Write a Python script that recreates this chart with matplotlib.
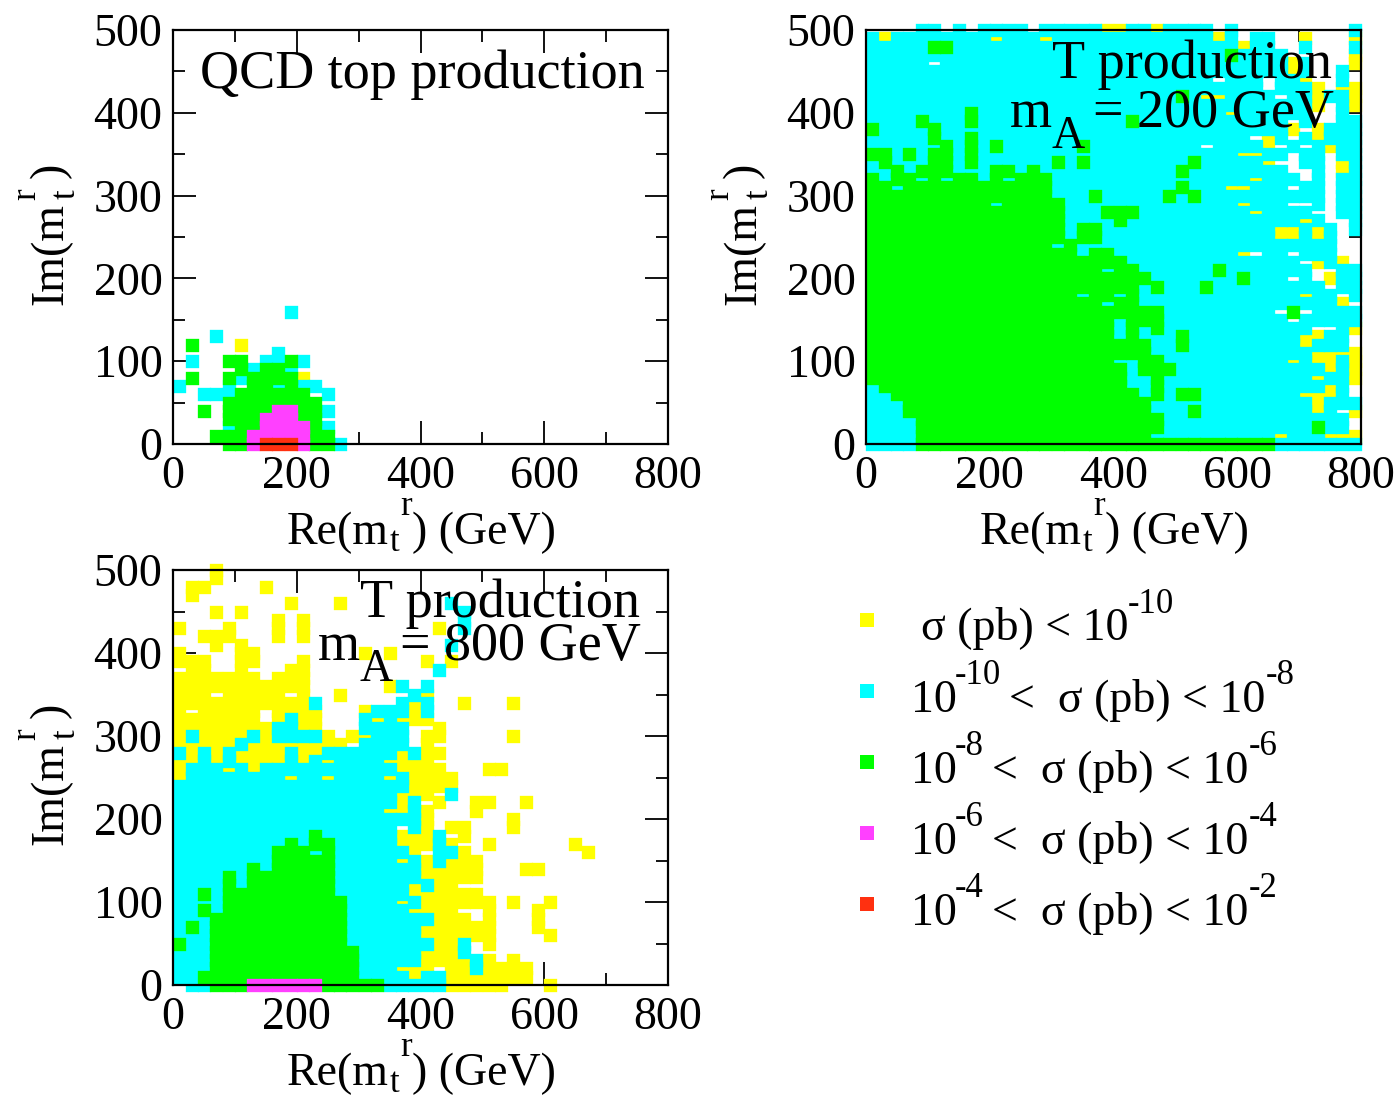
import matplotlib
matplotlib.use("Agg")
import matplotlib.pyplot as plt

W, H = 1398, 1099
plt.rcParams['font.family'] = ['Liberation Serif', 'DejaVu Serif']
plt.rcParams['mathtext.default'] = 'regular'

COLORS = {'y': '#ffff00', 'c': '#00ffff', 'g': '#00ff00', 'm': '#ff40ff', 'r': '#ff3010'}
LEVEL_ORDER = ['y', 'c', 'g', 'm', 'r']
XTICKS = [0, 200, 400, 600, 800]
YTICKS = [0, 100, 200, 300, 400, 500]

# Each row is one Im(m) value, from the top value down in steps of 10; each char one Re(m) column (10, 30, ...)
QCD_TOP = 160
QCD_ROWS = [
    ".........c", "", "", "...c......", ".g...y....", "........c.",
    ".c..gg.ccgc", ".....gcggc", ".g..gcggggy", "c...c.ggcgcc",
    "..cccgggggg.c", "....gggggggg", "..g.ggggmmggc", "....gggmmmgg.",
    "....cggmmmmgc", "...gggmmmmmgg", "....ggmrrrmggc",
]

T200_TOP = 500
T200_ROWS = [
    "....cc.c.c ccc.cccccy yccycccc.c .........c",
    "cycccccccc ycccyccccc ccccccccyc .cc..y...y",
    "cccccggccc cccccccccc cccccccccc ycc..c...c",
    "cccccccccc cccccccccc cccccccccg cccc.....y",
    "ccccc.cccc cccccccccc cccccccccc ccccyc...y",
    "cccccccccc cccccccccc cccccccccc ccccyc..c.",
    "cccccccccc cccccccccc cccccccc.c cc.ccy..c.",
    "cccccccccc cccccccccc cccccccccc cc.cccy.yy",
    "cccccccccc cccccccccc cccccgcyyc ccc.ccyccy",
    "cccccccccc cccccccccc cccccccccc ccccccy.cy",
    "ccccccccgc cccccccccc cccccccccy cccccc..c.",
    "ccccgcccgc cccccccccc cgcccccccc cccc.c..cc",
    "gccccgcccc cccccccccc cccccccccc ccccy.yccc",
    "cccccgccgc cccccccccc cccccccccc c.yc.cyccc",
    "ccccccgcgc gccccccgcc ccccccc.cc ccy.c.cycc",
    "ggcgcggcgc cccccccccc cccccccccc yycc.cc.cc",
    "cgcccggcgc cccccgcgcc ccccccgccc ccy..cc.yc",
    "ccgcgggccc ggcgcccccc cccccgcccc cccc..c.yc",
    "gcggcgcggc gcgggccccc cccccccccc cyccc.c.cc",
    "ggcggggggg gggggccccc cccccgcccy yccc.cc.cc",
    "gggggggggg gggggcccgc ccccgcgccc ccccccc.cc",
    "gggggggggg cgggggcccc cccccccccc yccc..c.cc",
    "gggggggggg ggggggcccg ggcccccccc cycccc..cc",
    "gggggggggg ggggggcccc gccccccccc cccccyc..c",
    "gggggggggg ggggggcggc cccccccccc cccyycyc.c",
    "gggggggggg ggggggcggc cccccccccc cccyycyc..",
    "gggggggggg gggggcgccc cccccccccc cccccccc..",
    "gggggggggg gggggggcgg cccccccccc y.cc.ccc..",
    "gggggggggg gggggggggg gccccccccc ccccc.ycy.",
    "gggggggggg gggggggggc ggccccccgc cccccc..cc",
    "gggggggggg gggggggggg gggccccccc gccc.c.ycc",
    "gggggggggg gggggggggg ggcgcccgcc ccccccc.cc",
    "gggggggggg gggggggcgg cgcccccccc cccccycc.c",
    "gggggggggg gggggggggc ggcccccccc ccccccccy.",
    "gggggggggg gggggggggg ggggcccccc ccc.g.cccc",
    "gggggggggg gggggggggg cgggcccccc cccc.ccccc",
    "gggggggggg gggggggggg cgcgcccccc cccccc..cy",
    "gggggggggg gggggggggg cgcccgcccc cccccyycc.",
    "gggggggggg gggggggggg gggccgcccc cccccyccc.",
    "gggggggggg gggggggggg gggccccccc ccccccyyyy",
    "gggggggggg gggggggggg ccggcccccc ccccycyycy",
    "gggggggggg gggggggggg gcgggccccc cccccccycy",
    "gggggggggg gggggggggg gccgcccccc ccccccyccy",
    "cggggggggg gggggggggg gccgcccccc cccccccyc.",
    "ccgggggggg gggggggggg ggcgcggccc cccccyyyc.",
    "cccggggggg gggggggggg gggccccccc ccccccyccc",
    "cccggggggg gggggggggg gggcccgccc ccccccyc.y",
    "ccccgggggg gggggggggg ggggcccccc ccccccccc.",
    "ccccgggggg gggggggggg ggggcccccc ccccccgcc.",
    "ccccgggggg gggggggggg gggccccccc cccycccyyy",
    "ccccgggggg gggggggggg gggggggggg gggccccccc",
]

T800_TOP = 500
T800_ROWS = [
    "...y......", "...y......", ".yy....y..", ".y........",
    ".........y ...y...... ..c.......",
    "...y.y.... .......... ...c......",
    "........y. y......... ...c......",
    "y...y...y. y......... .y.c......",
    "..yyy...y. y......... ..........",
    "...y.y.... .......... ..c.......",
    "y....yy... .....y.y.. ..........",
    "yyy..yy... y......... y.y.......",
    ".yy..y...y y......... .c........",
    "yyyyyyy.yy y......... ..........",
    "yyyyyyyyyy y......yc. c.........",
    "yyy.yyyyy. y..y.....c y.........",
    "yyyyyyyyyy yc......cy c..y...y..",
    "y.yyyyy.yy yy...ycccy c.........",
    "yyyyyyy.yc yy...cycyy y.........",
    "yyyyyyyycc yy...cccc. .y........",
    "ycyyyycycc ccy.yyccc. yy.....y..",
    "yyyyycyyyy yyyy.cccc. y.........",
    "cycycyyyyc yyccccccyc yy........",
    "yycycyyyyc ycyccccyyy y.........",
    "ycccycyccc ccccccccyy yy...yy...",
    "yccccccccy ccyccccycy yyy.......",
    "cccccccccc cccccccccy yyy.......",
    "cccccccccc ccccccccyy y.c.......",
    "cccccccccc ccccccccyc .y..yy..y.",
    "cccccccccc cccccccyyc y...y.....",
    "cccccccccc cccccccccc y......y..",
    "cccccccccc cccccccc.c y.yy...y..",
    "cccccccccc cgccccccyy yc.y......",
    "cccccccccg cggcccccyy ycy..y.... ..y.......",
    "ccccccccgg gcgccccccy .ccy...... ...y......",
    "ccccccccgg gggcccccyc ycyyy.....",
    "ccccccgcgg gggccccccc yyyyy...yy",
    "ccccgcgggg gggccccccc yyyyy.....",
    "ccccgcgggg gggccccccy cyy.......",
    "ccgcgggggg gggccccccy yyyyy.....",
    "ccccgggggg ggggccccyc yyyyyy.y.. y.........",
    "ccgcgggggg ggggcccccy yyy..y...y",
    "cccggggggg ggggcccccc cyyy.y...y",
    "cgcggggggg ggggcccccc yyyyyy...y",
    "cccggggggg ggggcccccc yyyyyy.... y.........",
    "gccggggggg ggggcccccc cyyc.y....",
    "cccggggggg gggggccccc yyyc......",
    "cccggggggg gggggccccc yyyycy.y..",
    "cccggggggg gggggcccyy y.yycyyyy.",
    "ccgggggggg gggggccccy ccyyyyyyy.",
    ".ccgggmmmm mmgggggccc ccyyyyy... y.........",
]

PANEL_TITLE_1 = "QCD top production"
LEGEND_LEVELS = ['y', 'c', 'g', 'm', 'r']

fig = plt.figure(figsize=(W / 100, H / 100), dpi=100, facecolor='white')


def axes_px(x0, y0, x1, y1):
    return fig.add_axes([x0 / W, 1 - y1 / H, (x1 - x0) / W, (y1 - y0) / H])


def put(x, y, s, size=33, rotation=0):
    fig.text(x / W, 1 - y / H, s, fontsize=size, ha='left', va='baseline', rotation=rotation,
             rotation_mode='anchor', color='black', zorder=10)


MS = 92


def panel(box, rows, top):
    ax = axes_px(*box)
    for lev in LEVEL_ORDER:
        xs, ys = [], []
        for i, row in enumerate(rows):
            cells = row.replace(" ", "")
            for k, ch in enumerate(cells):
                if ch == lev:
                    xs.append(10 + 20 * k)
                    ys.append(top - 10 * i)
        sc = ax.scatter(xs, ys, s=MS, marker='s', c=COLORS[lev], linewidths=0, clip_on=False, zorder=2)
        sc.set_snap(False)
    ax.set_xlim(0, 800)
    ax.set_ylim(0, 500)
    ax.set_xticks(XTICKS)
    ax.set_yticks(YTICKS)
    ax.set_xticks([100, 300, 500, 700], minor=True)
    ax.set_yticks([50, 150, 250, 350, 450], minor=True)
    ax.tick_params(which='major', direction='in', length=16.5, width=1.3, top=True, right=True,
                   labelsize=33, zorder=5)
    ax.tick_params(which='minor', direction='in', length=8.5, width=1.3, top=True, right=True, zorder=5)
    ax.tick_params(axis='x', which='major', pad=8)
    ax.tick_params(axis='y', which='major', pad=7.5)
    for s in ax.spines.values():
        s.set_linewidth(1.6)
        s.set_zorder(6)
    ax.patch.set_alpha(0)
    return ax


BOXES = [(173, 30, 668, 444), (866, 30, 1361, 444), (173, 570, 668, 985)]
panel(BOXES[0], QCD_ROWS, QCD_TOP)
panel(BOXES[1], T200_ROWS, T200_TOP)
panel(BOXES[2], T800_ROWS, T800_TOP)


def axis_labels(box):
    x0, y0, x1, y1 = box
    b = y1 + 100
    put(x0 + 114, b, "Re(m")
    put(x0 + 227, b - 29, "r", 25)
    put(x0 + 217, b + 7, "t", 25)
    put(x0 + 239, b, ") (GeV)")
    # rotated y label
    xb = x0 - 111
    yb = y0 + 275
    put(xb, yb, "Im(m", rotation=90)
    put(xb + 13, yb - 106, "t", 25, rotation=90)
    put(xb - 27, yb - 105, "r", 25, rotation=90)
    put(xb, yb - 127, ")", rotation=90)


for b in BOXES:
    axis_labels(b)

put(200, 88, PANEL_TITLE_1, 39)
put(1052, 78, "T production", 39)
put(1010, 127, "m", 39)
put(1052, 148, "A", 33)
put(1093, 127, "= 200 GeV", 39)
put(360, 617, "T production", 39)
put(318, 660, "m", 39)
put(360, 681, "A", 33)
put(400, 660, "= 800 GeV", 39)

# legend
lax = fig.add_axes([0, 0, 1, 1])
lax.set_xlim(0, W)
lax.set_ylim(H, 0)
lax.axis('off')
lax.patch.set_alpha(0)
for i, lev in enumerate(LEGEND_LEVELS):
    lax.scatter([866.5], [620 + 71 * i], s=92, marker='s', c=COLORS[lev], linewidths=0)

put(921, 640, "σ (pb) < 10")
put(1128, 613, "-10", 25)
put(911, 712, "10")
put(955, 684, "-10", 25)
put(1009, 712, "<  σ (pb) < 10")
put(1266, 684, "-8", 25)
for i, (a, c) in enumerate([("-8", "-6"), ("-6", "-4"), ("-4", "-2")]):
    b = 783 + 71 * i
    put(911, b, "10")
    put(955, b - 28, a, 25)
    put(992, b, "<  σ (pb) < 10")
    put(1249, b - 28, c, 25)

fig.savefig("out.png", dpi=100)
